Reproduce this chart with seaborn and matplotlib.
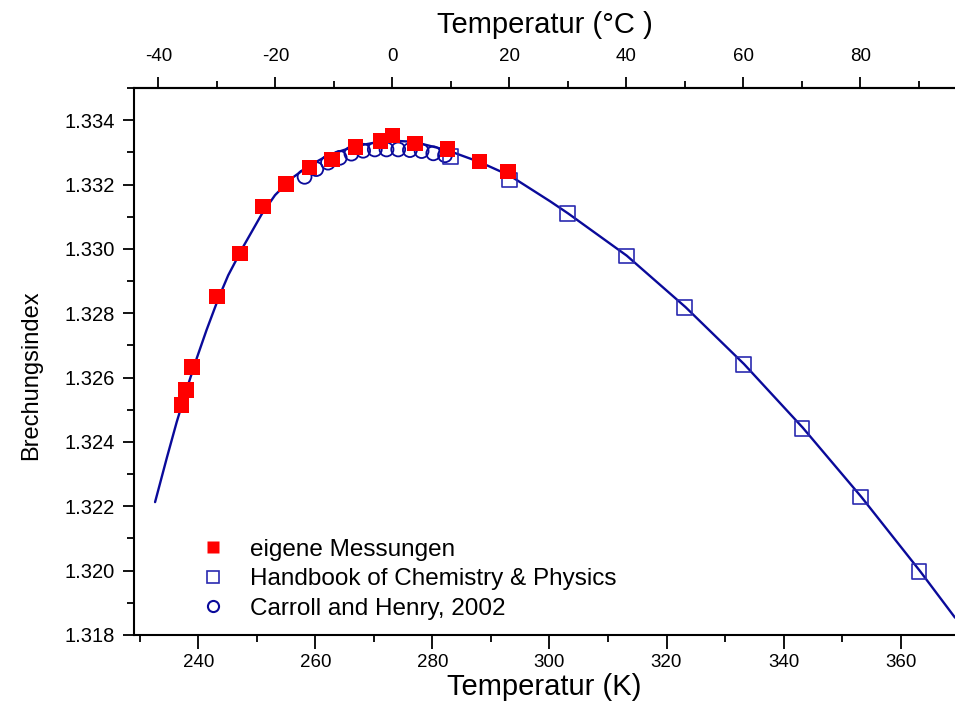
import numpy as np
import pandas as pd
import matplotlib
matplotlib.use("Agg")
import matplotlib.pyplot as plt
from matplotlib.ticker import MultipleLocator, FixedLocator, FormatStrFormatter
from matplotlib.lines import Line2D
import seaborn as sns

# eigene Messungen (K, n)
own_T = [237.15, 237.9, 238.9, 243.2, 247.1, 251.0, 255.0, 259.0, 262.85, 266.85,
         271.15, 273.15, 277.05, 282.55, 288.05, 292.95]
own_n = [1.32514, 1.32561, 1.32633, 1.32852, 1.32985, 1.33131, 1.33202, 1.33253,
         1.33278, 1.33317, 1.33335, 1.33352, 1.33327, 1.33311, 1.33271, 1.33241]

# Handbook of Chemistry & Physics
hb_T = [283.15, 293.15, 303.15, 313.15, 323.15, 333.15, 343.15, 353.15, 363.15]
hb_n = [1.33286, 1.33214, 1.33109, 1.32978, 1.32818, 1.32641, 1.32443, 1.32229, 1.31997]

# Carroll and Henry, 2002
ch_T = [258.15, 260.15, 262.15, 264.15, 266.15, 268.15, 270.15, 272.15, 274.15,
        276.15, 278.15, 280.15, 282.15]
ch_n = [1.33224, 1.33248, 1.33268, 1.33283, 1.33296, 1.33305, 1.33309, 1.33309,
        1.33309, 1.33307, 1.33304, 1.33297, 1.33291]

# fit curve
fit_T = [232.6, 234.6, 236.3, 238.0, 239.7, 241.4, 243.4, 245.1, 247.7, 250.8,
         253.1, 256.0, 258.8, 261.4, 263.1, 267.05, 271.05, 273.3, 276.75, 282.45,
         288.05, 293.2, 300.1, 303.2, 313.2, 323.25, 333.25, 343.3, 353.3, 363.35, 369.3]
fit_n = [1.32213, 1.32350, 1.32462, 1.32564, 1.32659, 1.32748, 1.32845, 1.32918,
         1.33008, 1.33107, 1.33167, 1.33220, 1.33257, 1.33283, 1.33297, 1.33320,
         1.33333, 1.33336, 1.33333, 1.33307, 1.33270, 1.33228, 1.33148, 1.33110,
         1.32979, 1.32819, 1.32642, 1.32444, 1.32229, 1.31998, 1.31854]

celsius_ticks = [-40, -20, 0, 20, 40, 60, 80]
labels = ["eigene Messungen", "Handbook of Chemistry & Physics", "Carroll and Henry, 2002"]

sns.set_style("ticks")
plt.rcParams['font.family'] = ['Liberation Sans', 'DejaVu Sans']
plt.rcParams['axes.unicode_minus'] = False
plt.rcParams['text.color'] = 'black'
plt.rcParams['axes.labelcolor'] = 'black'
plt.rcParams['xtick.color'] = 'black'
plt.rcParams['ytick.color'] = 'black'

W, H = 955, 722
fig = plt.figure(figsize=(W/100, H/100), dpi=100)
ax = fig.add_axes([134/W, 1-635/H, 1-134/W, (635-88)/H])

navy = "#0a0a9a"
fit_df = pd.DataFrame({"T": fit_T, "n": fit_n})
sns.lineplot(data=fit_df, x="T", y="n", ax=ax, color=navy, lw=1.7, sort=False, zorder=2)

ch_df = pd.DataFrame({"T": ch_T, "n": ch_n})
sns.scatterplot(data=ch_df, x="T", y="n", ax=ax, marker="o", s=100,
                facecolor="none", edgecolor=navy, linewidth=1.3, zorder=3)
hb_df = pd.DataFrame({"T": hb_T, "n": hb_n})
sns.scatterplot(data=hb_df, x="T", y="n", ax=ax, marker="s", s=115,
                facecolor="none", edgecolor="#2a2ab0", linewidth=1.2, zorder=3)
own_df = pd.DataFrame({"T": own_T, "n": own_n})
sns.scatterplot(data=own_df, x="T", y="n", ax=ax, marker="s", s=125,
                color="#ff0000", edgecolor="none", linewidth=0, zorder=4)

ax.set_xlim(229.0, 369.3)
ax.set_ylim(1.318, 1.335)
ax.xaxis.set_major_locator(MultipleLocator(20))
ax.xaxis.set_minor_locator(MultipleLocator(10))
ax.yaxis.set_major_locator(MultipleLocator(0.002))
ax.yaxis.set_minor_locator(MultipleLocator(0.001))
ax.yaxis.set_major_formatter(FormatStrFormatter("%.3f"))
ax.tick_params(axis="both", which="major", direction="out", length=8, width=1.3,
               colors="black")
ax.tick_params(axis="both", which="minor", direction="out", length=5, width=1.3)
ax.tick_params(axis="x", which="major", length=10, pad=4, labelsize=13.5)
ax.tick_params(axis="y", which="major", labelsize=14.5, pad=6)
for s in ["left", "bottom", "top"]:
    ax.spines[s].set_linewidth(1.5)
    ax.spines[s].set_color("black")
ax.spines["right"].set_visible(False)
ax.set_xlabel("Temperatur (K)", fontsize=21)
ax.set_ylabel("Brechungsindex", fontsize=17)
ax.xaxis.set_label_coords(0.5 * (134 + W) / W, 1 - 673 / H, transform=fig.transFigure)
ax.yaxis.set_label_coords((42-134)/821, 0.475)

top = ax.secondary_xaxis("top", functions=(lambda k: k - 273.15, lambda c: c + 273.15))
top.xaxis.set_major_locator(FixedLocator(celsius_ticks))
top.xaxis.set_minor_locator(MultipleLocator(10))
top.tick_params(axis="x", which="major", direction="out", length=8, width=1.3,
                labelsize=13.5, pad=8.5)
top.tick_params(axis="x", which="minor", direction="out", length=5, width=1.3)
top.spines["top"].set_linewidth(1.5)
top.set_xlabel("Temperatur (°C )", fontsize=21)
top.xaxis.set_label_coords(0.5 * (134 + W) / W, 1 - 33 / H, transform=fig.transFigure)

handles = [
    Line2D([], [], ls="none", marker="s", ms=8, mfc="#ff0000", mec="none"),
    Line2D([], [], ls="none", marker="s", ms=8, mfc="none", mec="#2a2ab0", mew=1.2),
    Line2D([], [], ls="none", marker="o", ms=8, mfc="none", mec=navy, mew=1.5),
]
ax.legend(handles, labels, loc="upper left", bbox_to_anchor=(191/W, 1-529/H),
          bbox_transform=fig.transFigure, frameon=False, fontsize=17.5,
          handlelength=1.0, handletextpad=1.03, labelspacing=0.31, borderaxespad=0)

fig.savefig("out.png", dpi=100)
